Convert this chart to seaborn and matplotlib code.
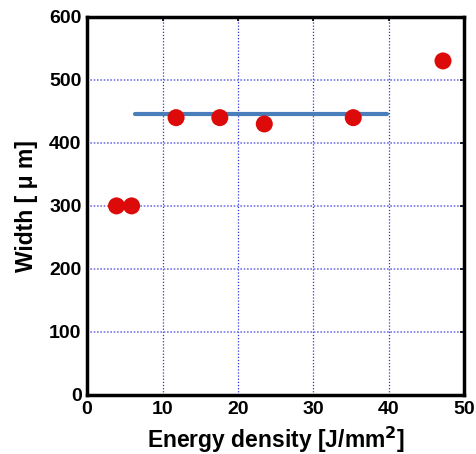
import matplotlib
matplotlib.use("Agg")
import matplotlib.pyplot as plt
import seaborn as sns
import pandas as pd

# measured points
energy = [3.9, 5.9, 11.8, 17.6, 23.5, 35.3, 47.2]
width = [300, 300, 440, 440, 430, 440, 530]

# average line
line_x = [6.3, 39.8]
line_y = [445, 445]

sns.set_style("white")
plt.rcParams["font.family"] = ["Liberation Sans", "Noto Sans CJK JP", "DejaVu Sans"]
plt.rcParams["text.color"] = "black"
plt.rcParams["axes.labelcolor"] = "black"
plt.rcParams["xtick.color"] = "black"
plt.rcParams["ytick.color"] = "black"

df = pd.DataFrame({"energy": energy, "width": width})
df_line = pd.DataFrame({"x": line_x, "y": line_y})

fig = plt.figure(figsize=(4.76, 4.54), dpi=100)
ax = fig.add_axes([0.183, 0.130, 0.792, 0.833])

ax.set_xlim(0, 50)
ax.set_ylim(0, 600)
ax.set_xticks(range(0, 51, 10))
ax.set_yticks(range(0, 601, 100))

ax.grid(True, axis="x", color="#3333dd", linestyle=(0, (1, 1.5)), linewidth=0.9)
ax.grid(True, axis="y", color="#7777ee", linestyle=(0, (1, 1)), linewidth=1.2)
ax.set_axisbelow(True)

sns.lineplot(data=df_line, x="x", y="y", ax=ax, color="#4a7ebb", linewidth=3, zorder=3)
sns.scatterplot(data=df, x="energy", y="width", ax=ax, color="#dd0a0a", s=150,
                edgecolor="none", zorder=4)

for sp in ax.spines.values():
    sp.set_linewidth(2.5)
    sp.set_color("black")

ax.tick_params(direction="in", length=3, width=1.2, top=True, right=True,
               labelsize=14, pad=4)
for lab in ax.get_xticklabels() + ax.get_yticklabels():
    lab.set_fontweight("bold")

ax.set_xlabel("Energy density [J/mm$^{\\mathbf{2}}$]", fontsize=16.5, fontweight="bold", labelpad=5)
ax.set_ylabel("Width [ μ m]", fontsize=16.5, fontweight="bold", labelpad=8)

fig.savefig("out.png", dpi=100)
